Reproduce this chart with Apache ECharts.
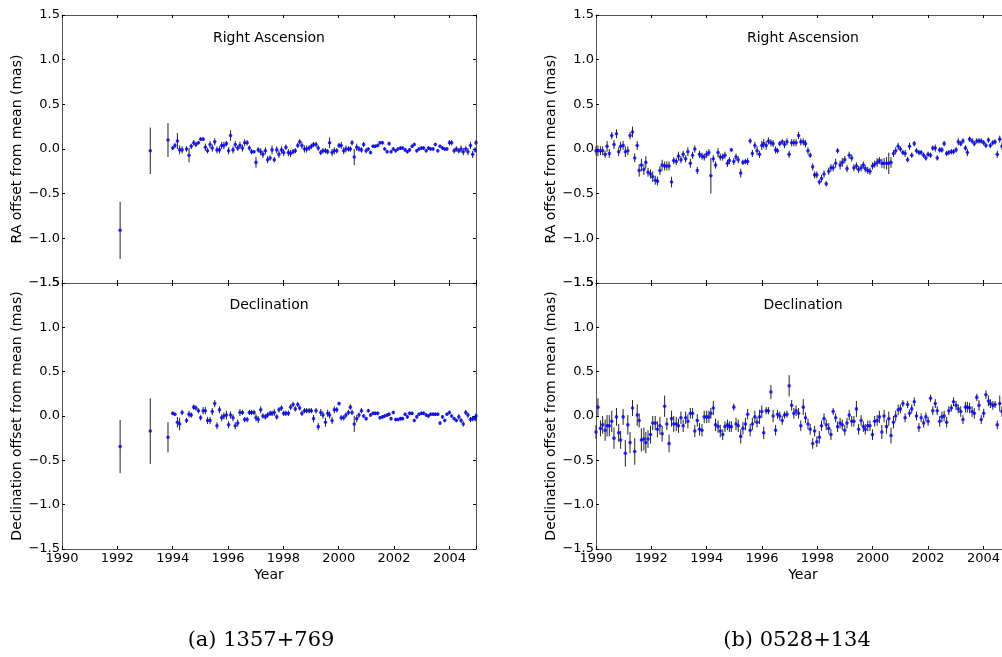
<!DOCTYPE html>
<html>
<head>
<meta charset="utf-8">
<script src="https://cdn.jsdelivr.net/npm/echarts@6/dist/echarts.min.js"></script>
<style>
html, body { margin: 0; padding: 0; background: #fff; }
#chart { width: 1002px; height: 657px; }
</style>
</head>
<body>
<div id="chart"></div>
<script>
// source (a) 1357+769 : observing epochs (year) and offsets (mas)
const yearsA = [
  1992.10, 1993.19, 1993.83, 1994.00, 1994.08, 1994.17, 1994.25, 1994.34, 1994.50, 1994.59,
  1994.67, 1994.76, 1994.84, 1994.93, 1995.01, 1995.10, 1995.18, 1995.26, 1995.35, 1995.43,
  1995.52, 1995.60, 1995.69, 1995.77, 1995.85, 1995.94, 1996.02, 1996.09, 1996.18, 1996.26,
  1996.35, 1996.43, 1996.52, 1996.60, 1996.69, 1996.77, 1996.85, 1996.94, 1997.01, 1997.09,
  1997.18, 1997.26, 1997.35, 1997.43, 1997.52, 1997.59, 1997.67, 1997.76, 1997.84, 1997.93,
  1998.01, 1998.09, 1998.18, 1998.26, 1998.35, 1998.43, 1998.52, 1998.59, 1998.67, 1998.76,
  1998.84, 1998.93, 1999.01, 1999.09, 1999.18, 1999.26, 1999.35, 1999.43, 1999.52, 1999.60,
  1999.67, 1999.76, 1999.84, 1999.93, 2000.01, 2000.09, 2000.18, 2000.26, 2000.35, 2000.42,
  2000.48, 2000.56, 2000.65, 2000.73, 2000.82, 2000.90, 2000.99, 2001.07, 2001.15, 2001.24,
  2001.32, 2001.41, 2001.49, 2001.58, 2001.66, 2001.75, 2001.82, 2001.89, 2001.97, 2002.06,
  2002.14, 2002.23, 2002.31, 2002.40, 2002.48, 2002.56, 2002.65, 2002.73, 2002.82, 2002.90,
  2002.99, 2003.07, 2003.16, 2003.24, 2003.32, 2003.41, 2003.49, 2003.58, 2003.66, 2003.75,
  2003.83, 2003.91, 2004.00, 2004.08, 2004.17, 2004.25, 2004.34, 2004.42, 2004.50, 2004.59,
  2004.67, 2004.76, 2004.84, 2004.93, 2004.96
];
const raA = [
  -0.91, -0.02, 0.10, 0.01, 0.04, 0.09, -0.01, -0.01, 0.00, -0.07,
  0.03, 0.07, 0.05, 0.07, 0.11, 0.11, 0.02, -0.02, 0.05, 0.01,
  0.08, -0.01, -0.01, 0.04, 0.04, 0.06, -0.02, 0.15, -0.01, 0.05,
  0.01, 0.04, 0.01, 0.07, 0.07, 0.01, -0.03, -0.03, -0.15, -0.01,
  -0.03, -0.06, -0.02, -0.12, -0.10, -0.01, -0.12, -0.01, -0.06, -0.01,
  -0.04, 0.02, -0.04, -0.05, -0.03, -0.02, 0.04, 0.08, 0.04, 0.00,
  0.00, 0.01, 0.03, 0.05, 0.05, 0.01, -0.04, -0.02, -0.02, -0.03,
  0.07, -0.04, -0.02, -0.02, 0.04, 0.04, -0.02, 0.00, 0.00, 0.00,
  0.07, -0.09, 0.02, 0.00, -0.01, 0.05, -0.02, 0.00, -0.04, 0.03,
  0.03, 0.04, 0.07, 0.07, 0.00, -0.03, 0.06, -0.03, 0.00, -0.02,
  0.00, 0.01, 0.01, -0.01, -0.03, -0.01, 0.03, 0.05, -0.02, 0.00,
  0.01, 0.01, -0.02, 0.01, 0.00, 0.00, 0.05, -0.02, 0.03, 0.01,
  0.00, 0.00, 0.07, 0.07, -0.02, 0.00, -0.02, 0.00, -0.03, 0.00,
  -0.03, 0.04, -0.06, -0.01, 0.07
];
const raErrA = [
  0.32, 0.26, 0.19, 0.02, 0.03, 0.09, 0.05, 0.04, 0.03, 0.08,
  0.03, 0.03, 0.03, 0.02, 0.02, 0.02, 0.04, 0.03, 0.04, 0.04,
  0.04, 0.04, 0.04, 0.04, 0.04, 0.03, 0.04, 0.06, 0.04, 0.04,
  0.03, 0.04, 0.04, 0.04, 0.03, 0.03, 0.03, 0.02, 0.06, 0.03,
  0.04, 0.04, 0.04, 0.04, 0.03, 0.05, 0.03, 0.04, 0.04, 0.04,
  0.04, 0.03, 0.04, 0.04, 0.03, 0.03, 0.03, 0.03, 0.04, 0.04,
  0.04, 0.03, 0.03, 0.03, 0.03, 0.03, 0.03, 0.03, 0.03, 0.03,
  0.06, 0.04, 0.04, 0.03, 0.03, 0.04, 0.04, 0.04, 0.03, 0.03,
  0.03, 0.09, 0.04, 0.03, 0.03, 0.03, 0.03, 0.02, 0.02, 0.02,
  0.02, 0.02, 0.02, 0.02, 0.02, 0.02, 0.02, 0.02, 0.02, 0.02,
  0.02, 0.02, 0.02, 0.02, 0.02, 0.02, 0.02, 0.02, 0.02, 0.02,
  0.02, 0.02, 0.02, 0.02, 0.02, 0.02, 0.02, 0.02, 0.02, 0.02,
  0.02, 0.02, 0.03, 0.03, 0.03, 0.03, 0.03, 0.04, 0.04, 0.03,
  0.04, 0.04, 0.04, 0.03, 0.03
];
const decA = [
  -0.345, -0.17, -0.24, 0.03, 0.02, -0.07, -0.09, 0.04, -0.05, 0.02,
  0.01, 0.10, 0.09, 0.06, -0.02, 0.06, 0.06, -0.05, -0.05, 0.05,
  0.14, -0.11, 0.07, -0.02, 0.00, 0.01, -0.10, 0.01, -0.02, -0.11,
  -0.08, 0.04, 0.04, -0.04, -0.04, 0.04, 0.04, 0.04, -0.02, -0.04,
  0.07, 0.00, -0.01, 0.01, 0.03, 0.03, 0.04, -0.01, 0.07, 0.09,
  0.03, 0.03, 0.03, 0.10, 0.13, 0.08, 0.13, 0.09, 0.03, 0.06,
  0.06, 0.06, 0.06, -0.03, 0.06, -0.12, 0.04, 0.01, -0.07, 0.03,
  0.01, -0.05, 0.07, 0.07, 0.14, -0.02, -0.02, 0.01, 0.04, 0.10,
  0.04, -0.09, -0.03, 0.01, 0.06, 0.00, -0.03, 0.06, 0.01, 0.03,
  0.03, 0.03, -0.02, -0.01, 0.00, 0.01, 0.02, -0.03, 0.04, -0.04,
  -0.04, -0.03, -0.03, 0.02, -0.01, 0.03, 0.03, -0.05, -0.01, 0.02,
  0.03, 0.03, 0.01, 0.00, 0.02, 0.02, 0.02, 0.02, -0.08, -0.01,
  -0.05, 0.02, 0.04, 0.00, -0.03, -0.05, -0.01, -0.05, -0.09, 0.04,
  0.01, -0.04, -0.03, -0.03, 0.00
];
const decErrA = [
  0.30, 0.37, 0.17, 0.02, 0.02, 0.06, 0.07, 0.03, 0.03, 0.04,
  0.03, 0.03, 0.03, 0.03, 0.03, 0.04, 0.04, 0.04, 0.04, 0.04,
  0.04, 0.04, 0.04, 0.04, 0.04, 0.05, 0.04, 0.04, 0.04, 0.04,
  0.04, 0.04, 0.03, 0.03, 0.03, 0.03, 0.03, 0.03, 0.04, 0.04,
  0.04, 0.03, 0.03, 0.03, 0.03, 0.03, 0.04, 0.03, 0.03, 0.03,
  0.03, 0.03, 0.03, 0.03, 0.03, 0.03, 0.03, 0.03, 0.03, 0.03,
  0.03, 0.03, 0.03, 0.04, 0.03, 0.04, 0.04, 0.04, 0.05, 0.04,
  0.04, 0.04, 0.04, 0.03, 0.02, 0.03, 0.03, 0.03, 0.03, 0.03,
  0.03, 0.09, 0.04, 0.03, 0.03, 0.02, 0.02, 0.02, 0.02, 0.02,
  0.02, 0.02, 0.02, 0.02, 0.02, 0.02, 0.02, 0.02, 0.02, 0.02,
  0.02, 0.02, 0.02, 0.02, 0.02, 0.02, 0.02, 0.02, 0.02, 0.02,
  0.02, 0.02, 0.02, 0.02, 0.02, 0.02, 0.02, 0.02, 0.02, 0.02,
  0.02, 0.02, 0.02, 0.02, 0.02, 0.02, 0.03, 0.03, 0.03, 0.03,
  0.03, 0.03, 0.03, 0.03, 0.03
];

// source (b) 0528+134
const yearsB = [
  1990.00, 1990.07, 1990.16, 1990.24, 1990.33, 1990.40, 1990.48, 1990.57, 1990.65, 1990.74,
  1990.82, 1990.89, 1990.98, 1991.06, 1991.15, 1991.23, 1991.32, 1991.40, 1991.49, 1991.56,
  1991.64, 1991.73, 1991.80, 1991.88, 1991.97, 1992.05, 1992.14, 1992.22, 1992.31, 1992.39,
  1992.48, 1992.56, 1992.64, 1992.73, 1992.81, 1992.90, 1992.98, 1993.07, 1993.15, 1993.24,
  1993.32, 1993.41, 1993.49, 1993.57, 1993.66, 1993.74, 1993.83, 1993.91, 1994.00, 1994.08,
  1994.15, 1994.24, 1994.32, 1994.41, 1994.49, 1994.58, 1994.66, 1994.75, 1994.82, 1994.89,
  1994.98, 1995.06, 1995.14, 1995.23, 1995.31, 1995.40, 1995.48, 1995.57, 1995.65, 1995.74,
  1995.82, 1995.91, 1995.99, 1996.06, 1996.15, 1996.23, 1996.32, 1996.40, 1996.49, 1996.56,
  1996.64, 1996.73, 1996.81, 1996.90, 1996.98, 1997.07, 1997.15, 1997.23, 1997.32, 1997.40,
  1997.49, 1997.57, 1997.66, 1997.74, 1997.83, 1997.90, 1997.98, 1998.07, 1998.15, 1998.24,
  1998.32, 1998.41, 1998.49, 1998.57, 1998.66, 1998.73, 1998.82, 1998.90, 1998.99, 1999.07,
  1999.15, 1999.24, 1999.32, 1999.41, 1999.49, 1999.58, 1999.66, 1999.73, 1999.82, 1999.90,
  1999.99, 2000.07, 2000.16, 2000.24, 2000.33, 2000.41, 2000.50, 2000.58, 2000.66, 2000.75,
  2000.83, 2000.92, 2001.00, 2001.09, 2001.17, 2001.26, 2001.33, 2001.41, 2001.50, 2001.58,
  2001.67, 2001.75, 2001.84, 2001.92, 2002.00, 2002.09, 2002.17, 2002.26, 2002.33, 2002.42,
  2002.50, 2002.58, 2002.67, 2002.75, 2002.84, 2002.92, 2003.01, 2003.09, 2003.18, 2003.26,
  2003.35, 2003.42, 2003.50, 2003.59, 2003.67, 2003.76, 2003.84, 2003.92, 2004.01, 2004.09,
  2004.18, 2004.25, 2004.34, 2004.42, 2004.50, 2004.59, 2004.67
];
const raB = [
  -0.02, -0.02, -0.02, -0.02, -0.06, 0.03, -0.05, 0.15, 0.05, 0.17,
  -0.03, 0.03, 0.04, -0.03, -0.02, 0.15, 0.19, -0.10, 0.04, -0.24,
  -0.18, -0.23, -0.15, -0.26, -0.28, -0.31, -0.35, -0.36, -0.24, -0.18,
  -0.19, -0.19, -0.19, -0.37, -0.13, -0.14, -0.08, -0.12, -0.06, -0.11,
  -0.03, -0.16, -0.07, 0.00, -0.24, -0.06, -0.08, -0.09, -0.06, -0.04,
  -0.30, -0.11, -0.18, -0.04, -0.09, -0.09, -0.07, -0.16, -0.13, -0.01,
  -0.14, -0.09, -0.12, -0.27, -0.15, -0.14, -0.14, 0.09, -0.05, 0.04,
  -0.02, -0.06, 0.04, 0.06, 0.04, 0.09, 0.07, 0.06, -0.01, -0.02,
  0.06, 0.08, 0.05, 0.08, -0.06, 0.07, 0.07, 0.07, 0.15, 0.08,
  0.08, 0.06, -0.02, -0.07, -0.20, -0.29, -0.29, -0.37, -0.33, -0.28,
  -0.39, -0.25, -0.21, -0.21, -0.16, -0.02, -0.18, -0.15, -0.12, -0.22,
  -0.07, -0.10, -0.21, -0.19, -0.23, -0.21, -0.18, -0.22, -0.24, -0.25,
  -0.19, -0.17, -0.15, -0.13, -0.16, -0.16, -0.16, -0.16, -0.15, -0.05,
  -0.02, 0.03, 0.00, -0.04, -0.05, -0.12, 0.03, -0.07, 0.06, -0.02,
  -0.04, -0.04, -0.07, -0.10, -0.06, -0.07, 0.01, 0.01, -0.10, -0.01,
  -0.01, 0.06, -0.05, -0.04, -0.03, -0.03, -0.01, 0.08, 0.06, 0.09,
  0.01, -0.04, 0.11, 0.09, 0.06, 0.09, 0.09, 0.09, 0.07, 0.04,
  0.10, 0.04, 0.07, 0.08, -0.06, 0.11, 0.03
];
const raErrB = [
  0.05, 0.06, 0.05, 0.05, 0.04, 0.06, 0.05, 0.04, 0.05, 0.05,
  0.05, 0.05, 0.05, 0.06, 0.05, 0.04, 0.06, 0.05, 0.05, 0.07,
  0.07, 0.06, 0.07, 0.05, 0.05, 0.06, 0.05, 0.05, 0.05, 0.06,
  0.05, 0.05, 0.05, 0.06, 0.04, 0.04, 0.05, 0.04, 0.04, 0.04,
  0.05, 0.05, 0.04, 0.04, 0.04, 0.04, 0.04, 0.04, 0.04, 0.04,
  0.20, 0.04, 0.04, 0.05, 0.04, 0.04, 0.04, 0.04, 0.04, 0.02,
  0.04, 0.04, 0.04, 0.05, 0.03, 0.03, 0.04, 0.03, 0.04, 0.04,
  0.05, 0.04, 0.05, 0.05, 0.05, 0.04, 0.04, 0.04, 0.04, 0.03,
  0.03, 0.03, 0.04, 0.04, 0.04, 0.04, 0.04, 0.04, 0.04, 0.04,
  0.04, 0.04, 0.04, 0.03, 0.04, 0.04, 0.04, 0.03, 0.04, 0.04,
  0.03, 0.04, 0.04, 0.04, 0.05, 0.03, 0.05, 0.05, 0.04, 0.04,
  0.04, 0.04, 0.04, 0.04, 0.04, 0.04, 0.04, 0.04, 0.04, 0.04,
  0.04, 0.04, 0.05, 0.04, 0.05, 0.06, 0.07, 0.12, 0.06, 0.04,
  0.04, 0.04, 0.03, 0.03, 0.04, 0.03, 0.04, 0.03, 0.03, 0.03,
  0.03, 0.03, 0.03, 0.03, 0.03, 0.03, 0.03, 0.04, 0.03, 0.03,
  0.03, 0.03, 0.03, 0.03, 0.03, 0.03, 0.03, 0.04, 0.03, 0.03,
  0.03, 0.04, 0.03, 0.03, 0.03, 0.03, 0.03, 0.03, 0.03, 0.03,
  0.03, 0.03, 0.03, 0.03, 0.04, 0.04, 0.04
];
const decB = [
  -0.18, 0.10, -0.14, -0.10, -0.16, -0.11, -0.11, -0.06, -0.25, -0.01,
  -0.19, -0.27, -0.01, -0.42, -0.10, -0.30, 0.09, -0.40, 0.01, -0.05,
  -0.27, -0.26, -0.30, -0.26, -0.21, -0.08, -0.08, -0.15, -0.11, -0.20,
  0.11, -0.09, -0.31, -0.03, -0.09, -0.09, -0.11, -0.02, -0.11, -0.02,
  -0.06, 0.03, 0.03, -0.17, -0.05, -0.15, -0.16, -0.01, -0.01, -0.01,
  0.03, 0.09, -0.10, -0.12, -0.17, -0.21, -0.12, -0.10, -0.12, -0.12,
  0.10, -0.09, -0.11, -0.23, -0.14, -0.09, 0.02, -0.16, -0.09, -0.01,
  -0.07, -0.01, 0.05, -0.19, 0.06, 0.06, 0.27, 0.00, -0.16, 0.02,
  0.00, -0.05, 0.01, 0.02, 0.34, 0.12, 0.03, 0.06, 0.03, -0.11,
  0.10, -0.02, -0.09, -0.15, -0.31, -0.17, -0.29, -0.24, -0.11, -0.03,
  -0.10, -0.14, -0.21, 0.05, -0.02, -0.12, -0.08, -0.10, -0.16, -0.08,
  0.01, -0.06, -0.06, 0.08, -0.15, -0.05, -0.12, -0.15, -0.11, -0.11,
  -0.21, -0.06, -0.05, -0.01, -0.18, 0.00, -0.12, -0.03, -0.22, -0.07,
  0.00, 0.07, 0.08, 0.14, -0.02, 0.13, 0.03, 0.08, 0.16, 0.00,
  -0.13, -0.02, -0.08, -0.01, -0.06, 0.20, 0.06, 0.14, 0.06, -0.06,
  -0.01, 0.00, -0.07, 0.06, 0.09, 0.16, 0.12, 0.08, 0.05, -0.04,
  0.10, 0.10, 0.09, 0.05, 0.03, 0.21, 0.12, -0.04, 0.03, 0.24,
  0.17, 0.14, 0.12, 0.13, -0.10, 0.14, 0.05
];
const decErrB = [
  0.08, 0.10, 0.09, 0.10, 0.12, 0.12, 0.12, 0.12, 0.12, 0.10,
  0.10, 0.10, 0.09, 0.15, 0.11, 0.12, 0.09, 0.15, 0.12, 0.08,
  0.13, 0.13, 0.12, 0.10, 0.10, 0.08, 0.08, 0.09, 0.10, 0.09,
  0.12, 0.07, 0.10, 0.09, 0.09, 0.08, 0.08, 0.07, 0.07, 0.07,
  0.08, 0.06, 0.06, 0.07, 0.07, 0.07, 0.07, 0.07, 0.07, 0.07,
  0.06, 0.08, 0.07, 0.07, 0.07, 0.06, 0.06, 0.06, 0.06, 0.06,
  0.04, 0.07, 0.07, 0.08, 0.07, 0.07, 0.06, 0.07, 0.07, 0.07,
  0.06, 0.08, 0.07, 0.07, 0.04, 0.04, 0.08, 0.07, 0.06, 0.05,
  0.05, 0.05, 0.04, 0.04, 0.12, 0.06, 0.06, 0.06, 0.06, 0.06,
  0.09, 0.06, 0.06, 0.06, 0.06, 0.06, 0.06, 0.07, 0.06, 0.06,
  0.06, 0.06, 0.06, 0.04, 0.05, 0.06, 0.06, 0.06, 0.06, 0.06,
  0.06, 0.06, 0.06, 0.09, 0.06, 0.06, 0.06, 0.06, 0.06, 0.06,
  0.06, 0.06, 0.06, 0.07, 0.08, 0.07, 0.08, 0.08, 0.09, 0.07,
  0.06, 0.06, 0.05, 0.04, 0.05, 0.04, 0.04, 0.05, 0.05, 0.05,
  0.05, 0.05, 0.05, 0.05, 0.05, 0.04, 0.05, 0.05, 0.05, 0.06,
  0.06, 0.06, 0.06, 0.05, 0.04, 0.05, 0.05, 0.05, 0.06, 0.05,
  0.06, 0.06, 0.06, 0.06, 0.06, 0.04, 0.06, 0.05, 0.05, 0.05,
  0.06, 0.05, 0.05, 0.04, 0.05, 0.09, 0.06
];

const yTicks = [-1.5, -1.0, -0.5, 0.0, 0.5, 1.0, 1.5];
const xStart = 1990, xEnd = 2004.96, xStep = 2;

const FONT = 'DejaVu Sans';
// right panel is wider than the page on purpose: its right edge is cut off like the original
const panels = [
  { grid: { left: 62, top: 15, width: 414, height: 268 }, years: yearsA, vals: raA, errs: raErrA, name: 'RA offset from mean (mas)', title: 'Right Ascension', bottom: false },
  { grid: { left: 62, top: 283, width: 414, height: 266 }, years: yearsA, vals: decA, errs: decErrA, name: 'Declination offset from mean (mas)', title: 'Declination', bottom: true },
  { grid: { left: 596, top: 15, width: 414, height: 268 }, years: yearsB, vals: raB, errs: raErrB, name: 'RA offset from mean (mas)', title: 'Right Ascension', bottom: false },
  { grid: { left: 596, top: 283, width: 414, height: 266 }, years: yearsB, vals: decB, errs: decErrB, name: 'Declination offset from mean (mas)', title: 'Declination', bottom: true }
];

const frame = { onZero: false, lineStyle: { color: '#555', width: 1 } };
const ticks = { inside: true, length: 3, lineStyle: { color: '#000', width: 1 } };

const xAxis = [], yAxis = [], series = [], graphic = [];
panels.forEach((p, g) => {
  const xBase = { type: 'value', gridIndex: g, min: xStart, max: xEnd, interval: xStep,
    splitLine: { show: false }, axisLine: frame, axisTick: ticks };
  xAxis.push(Object.assign({}, xBase, { position: 'bottom',
    axisLabel: { show: p.bottom, margin: 3, color: '#000', fontFamily: FONT, fontSize: 13,
      formatter: v => (v % 2 === 0 ? String(v) : '') } }));
  xAxis.push(Object.assign({}, xBase, { position: 'top', axisLabel: { show: false } }));

  const yBase = { type: 'value', gridIndex: g, min: yTicks[0], max: yTicks[yTicks.length - 1], interval: 0.5,
    splitLine: { show: false }, axisLine: frame, axisTick: ticks };
  yAxis.push(Object.assign({}, yBase, { position: 'left',
    name: p.name, nameLocation: 'middle', nameGap: 36,
    nameTextStyle: { color: '#000', fontFamily: FONT, fontSize: 14 },
    axisLabel: { margin: 2, color: '#000', fontFamily: FONT, fontSize: 13,
      formatter: v => (v < 0 ? '\u2212' : '') + Math.abs(v).toFixed(1) } }));
  yAxis.push(Object.assign({}, yBase, { position: 'right', axisLabel: { show: false } }));

  series.push({
    type: 'custom', xAxisIndex: 2 * g, yAxisIndex: 2 * g, z: 2,
    data: p.years.map((yr, i) => [yr, p.vals[i] - p.errs[i], p.vals[i] + p.errs[i]]),
    encode: { x: 0, y: [1, 2] },
    renderItem: function (params, api) {
      const lo = api.coord([api.value(0), api.value(1)]);
      const hi = api.coord([api.value(0), api.value(2)]);
      return { type: 'line', shape: { x1: lo[0], y1: lo[1], x2: hi[0], y2: hi[1] },
        style: { stroke: '#222', lineWidth: 1 } };
    }
  });
  series.push({
    type: 'scatter', xAxisIndex: 2 * g, yAxisIndex: 2 * g, z: 3,
    symbol: 'circle', symbolSize: 3.6,
    itemStyle: { color: '#0000ff' },
    data: p.years.map((yr, i) => [yr, p.vals[i]])
  });

  const cx = p.grid.left + p.grid.width / 2;
  graphic.push({ type: 'text', x: cx, y: p.grid.top + (p.bottom ? 22 : 23),
    style: { text: p.title, fill: '#000', font: '14px "DejaVu Sans"', textAlign: 'center', textVerticalAlign: 'middle' } });
  if (p.bottom) {
    graphic.push({ type: 'text', x: cx, y: 575,
      style: { text: 'Year', fill: '#000', font: '14px "DejaVu Sans"', textAlign: 'center', textVerticalAlign: 'middle' } });
  }
});

graphic.push({ type: 'text', x: 261, y: 641,
  style: { text: '(a) 1357+769', fill: '#000', font: '21px "DejaVu Serif"', textAlign: 'center', textVerticalAlign: 'middle' } });
graphic.push({ type: 'text', x: 797, y: 641,
  style: { text: '(b) 0528+134', fill: '#000', font: '21px "DejaVu Serif"', textAlign: 'center', textVerticalAlign: 'middle' } });

const chart = echarts.init(document.getElementById('chart'));
chart.setOption({
  backgroundColor: '#fff',
  animation: false,
  grid: panels.map(p => Object.assign({ containLabel: false, outerBoundsMode: 'none' }, p.grid)),
  xAxis: xAxis,
  yAxis: yAxis,
  series: series,
  graphic: graphic
});
</script>
</body>
</html>
